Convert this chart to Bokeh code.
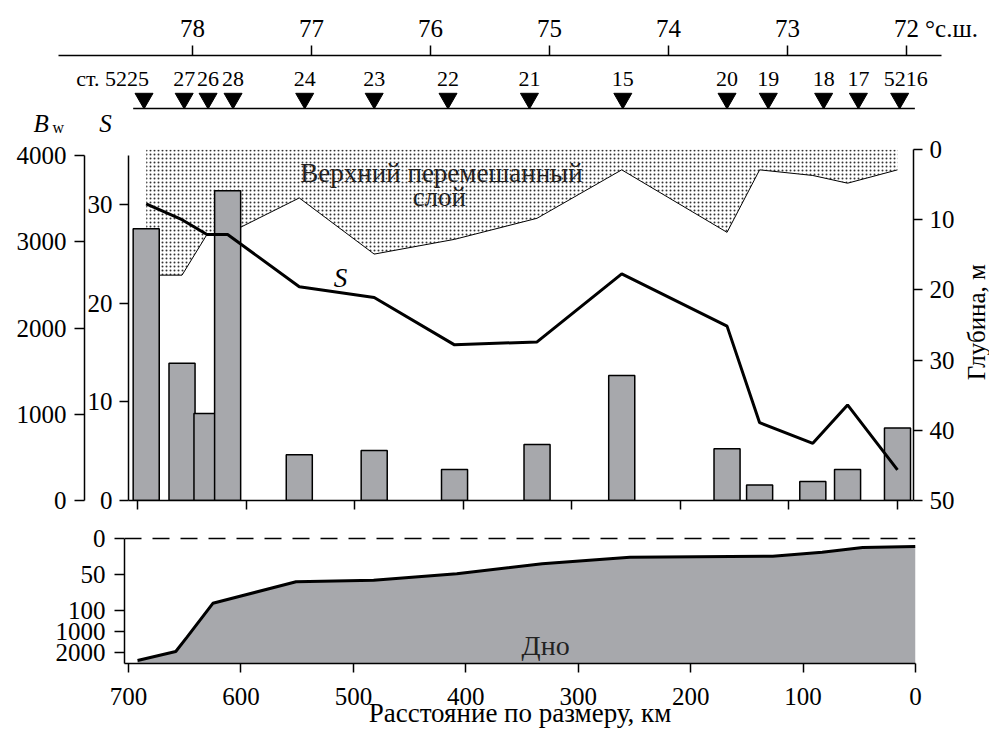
import math
from bokeh.plotting import figure
from bokeh.models import Range1d, LinearAxis, FixedTicker, Span
from bokeh.layouts import column, row
from bokeh.embed import file_html
from bokeh.resources import INLINE
from bokeh.core.properties import value

FONT = "Liberation Serif"
GREY = "#a7a8ac"

# ---------------- data ----------------
lat_ticks = [78, 77, 76, 75, 74, 73, 72]
lat_unit = "°с.ш."
station_names = ["ст. 5225", "27", "26", "28", "24", "23", "22", "21", "15",
                 "20", "19", "18", "17", "5216"]
marker_km = [694, 657, 635, 612, 546, 482, 414, 339, 253, 157, 119, 68, 36, -2]
station_km = [692, 659, 636, 617, 551, 482, 408, 332, 254, 157, 127, 78, 46, 0]
bw = [3150, 1590, 1010, 3590, 530, 580, 360, 650, 1450, 600, 180, 220, 360, 840]
salinity = [30.1, 28.5, 27.0, 27.0, 21.7, 20.6, 15.8, 16.1, 23.0, 17.7, 7.9, 5.8, 9.7, 3.1]
mixed_depth = [17.9, 17.9, 12.1, 12.0, 6.9, 14.9, 12.8, 9.8, 2.9, 11.8, 2.9, 3.7, 4.8, 2.9]
bottom_km = [692, 658, 648, 625, 551, 482, 408, 332, 254, 127, 83, 47, 0]
bottom_depth = [2380, 1950, 1270, 90, 60, 58, 49, 35, 26, 24.5, 19, 12.5, 11]
km_ticks = [700, 600, 500, 400, 300, 200, 100, 0]
bw_ticks = [0, 1000, 2000, 3000, 4000]
s_ticks = [0, 10, 20, 30]
depth_ticks = [0, 10, 20, 30, 40, 50]
bottom_ticks = [0, 50, 100, 1000, 2000]


def bottom_scale(d):
    """Piecewise depth scale of the lower panel (broken axis)."""
    if d <= 100:
        return 0.72 * d
    if d <= 1000:
        return 72 + (d - 100) * 21.0 / 900.0
    return 93 + (d - 1000) * 0.021


def style_axis(ax, tick_out, standoff, size="25px"):
    ax.axis_line_color = "black"
    ax.axis_line_width = 1.5
    ax.major_tick_line_color = "black"
    ax.major_tick_line_width = 1.5
    ax.major_tick_in = 0
    ax.major_tick_out = tick_out
    ax.minor_tick_line_color = None
    ax.major_label_text_font = FONT
    ax.major_label_text_font_size = size
    ax.major_label_text_color = "black"
    ax.major_label_standoff = standoff
    ax.axis_label_text_font = FONT
    ax.axis_label_text_font_style = "normal"
    ax.axis_label_text_font_size = "25px"
    ax.axis_label_text_color = "black"


def base_fig(**kw):
    p = figure(output_backend="svg", toolbar_location=None, x_axis_type=None,
               y_axis_type=None, min_border=0, **kw)
    p.outline_line_color = None
    p.background_fill_color = "white"
    p.border_fill_color = "white"
    p.xgrid.visible = False
    p.ygrid.visible = False
    try:
        p.frame_align = False
    except Exception:
        pass
    return p


# ---------------- top strip: latitude + stations ----------------
pA = base_fig(width=989, height=136,
              x_range=Range1d(79.6134, 71.3025), y_range=Range1d(81, 0),
              min_border_top=55)
pA.extra_x_ranges = {"km": Range1d(826.2, -84.74)}

lat_line = LinearAxis(ticker=FixedTicker(ticks=lat_ticks), bounds=(71.706, 79.126))
style_axis(lat_line, 10, 0, size="1px")
lat_line.major_label_text_color = None
pA.add_layout(lat_line, "above")

unit_pos = 71.622
lat_labels = LinearAxis(ticker=FixedTicker(ticks=lat_ticks + [unit_pos]))
lat_labels.major_label_overrides = {unit_pos: lat_unit}
style_axis(lat_labels, 0, 4)
lat_labels.axis_line_color = None
lat_labels.major_tick_line_color = None
pA.add_layout(lat_labels, "above")

pA.segment(x0=[max(marker_km) + 10], y0=[53], x1=[min(marker_km) - 14], y1=[53],
           x_range_name="km", line_color="black", line_width=1.5)
pA.scatter(x=marker_km, y=[43] * len(marker_km), x_range_name="km",
           marker="inverted_triangle", size=18, fill_color="black", line_color="black")
pA.text(x=marker_km[1:-1], y=[23] * (len(marker_km) - 2), text=station_names[1:-1],
        x_range_name="km", text_font=value(FONT), text_font_size="22px",
        text_align="center", text_baseline="middle")
pA.text(x=[marker_km[0]], y=[23], text=[station_names[0]], x_range_name="km",
        x_offset=5, text_font=value(FONT), text_font_size="22px",
        text_align="right", text_baseline="middle")
pA.text(x=[marker_km[-1]], y=[23], text=[station_names[-1]], x_range_name="km",
        x_offset=6, text_font=value(FONT), text_font_size="22px",
        text_align="center", text_baseline="middle")
# axis titles B_w and S
pA.text(x=[795.8], y=[68], text=["B"], x_range_name="km", text_font=value(FONT),
        text_font_style="italic", text_font_size="25px", text_align="left",
        text_baseline="middle")
pA.text(x=[778.3], y=[72], text=["w"], x_range_name="km", text_font=value(FONT),
        text_font_size="16px", text_align="left", text_baseline="middle")
pA.text(x=[729.5], y=[68], text=["S"], x_range_name="km", text_font=value(FONT),
        text_font_style="italic", text_font_size="25px", text_align="center",
        text_baseline="middle")

# ---------------- upper panel ----------------
pB = base_fig(width=962, height=384,
              x_range=Range1d(708.3, -14.74), y_range=Range1d(0, 35.63),
              min_border_left=128, min_border_right=49, min_border_top=13,
              min_border_bottom=20)
depth_range = Range1d(50, 0)
pB.extra_y_ranges = {"bw": Range1d(0, 4069.6), "depth": depth_range}

s_axis = LinearAxis(ticker=FixedTicker(ticks=s_ticks), bounds=(0, 35))
style_axis(s_axis, 9, 7)
pB.add_layout(s_axis, "left")

bw_axis = LinearAxis(y_range_name="bw", ticker=FixedTicker(ticks=bw_ticks), bounds=(0, 4000))
style_axis(bw_axis, 10, 8)
pB.add_layout(bw_axis, "left")

d_axis = LinearAxis(y_range_name="depth", ticker=FixedTicker(ticks=depth_ticks))
style_axis(d_axis, 9, 7)
pB.add_layout(d_axis, "right")

x_axis_b = LinearAxis(ticker=FixedTicker(ticks=km_ticks))
style_axis(x_axis_b, 9, 0, size="1px")
x_axis_b.major_label_text_color = None
pB.add_layout(x_axis_b, "below")

pB.varea(x=station_km, y1=[0] * len(station_km), y2=mixed_depth, y_range_name="depth",
         fill_color="white", hatch_pattern="dot", hatch_scale=4, hatch_weight=1,
         hatch_color="#333333")
pB.line(x=station_km, y=mixed_depth, y_range_name="depth", line_color="black", line_width=1)
pB.vbar(x=station_km, width=24, top=bw, bottom=0, y_range_name="bw",
        fill_color=GREY, line_color="black", line_width=1.5)
pB.line(x=station_km, y=salinity, line_color="black", line_width=3)
pB.text(x=[513], y=[22.6], text=["S"], text_font=value(FONT), text_font_style="italic",
        text_font_size="27px", text_align="center", text_baseline="middle")
pB.text(x=[420, 422], y=[3.3, 6.8], text=["Верхний перемешанный", "слой"],
        y_range_name="depth", text_font=value(FONT), text_font_size="27px",
        text_align="center", text_baseline="middle", text_color="#222222")

# narrow strip carrying the right-axis title (reads bottom to top)
pD = base_fig(width=27, height=384, x_range=Range1d(0, 1),
              y_range=Range1d(50, 0), min_border_top=13, min_border_bottom=20)
pD.text(x=[0.5], y=[24.6], text=["Глубина, м"], angle=math.pi / 2,
        text_font=value(FONT), text_font_size="25px", text_align="center",
        text_baseline="middle")

# ---------------- lower panel (bottom profile) ----------------
pC = base_fig(width=989, height=211,
              x_range=Range1d(703.6, 0), y_range=Range1d(125, -2),
              min_border_left=124, min_border_right=74, min_border_top=16,
              min_border_bottom=68)
yb = [bottom_scale(d) for d in bottom_depth]
pC.varea(x=bottom_km, y1=yb, y2=[pC.y_range.start] * len(yb), fill_color=GREY)
pC.line(x=bottom_km, y=yb, line_color="black", line_width=3)
pC.add_layout(Span(location=bottom_scale(0), dimension="width", line_color="black",
                   line_width=1.5, line_dash="17 11"))
pC.text(x=[329], y=[bottom_scale(1667)], text=["Дно"], text_font=value(FONT),
        text_font_size="28px", text_align="center", text_baseline="middle",
        text_color="#222222")

bt = [bottom_scale(d) for d in bottom_ticks]
c_yaxis = LinearAxis(ticker=FixedTicker(ticks=bt), bounds=(0, 125))
c_yaxis.major_label_overrides = {t: str(d) for t, d in zip(bt, bottom_ticks)}
style_axis(c_yaxis, 10, 9)
pC.add_layout(c_yaxis, "left")

c_xaxis = LinearAxis(ticker=FixedTicker(ticks=km_ticks),
                     axis_label="Расстояние по размеру, км")
style_axis(c_xaxis, 9, 15)
c_xaxis.axis_label_standoff = -10
c_xaxis.axis_label_text_font_size = "27px"
pC.add_layout(c_xaxis, "below")

layout = column(pA, row(pB, pD, spacing=0), pC, spacing=0)
open("out.html", "w").write(file_html(layout, INLINE))
